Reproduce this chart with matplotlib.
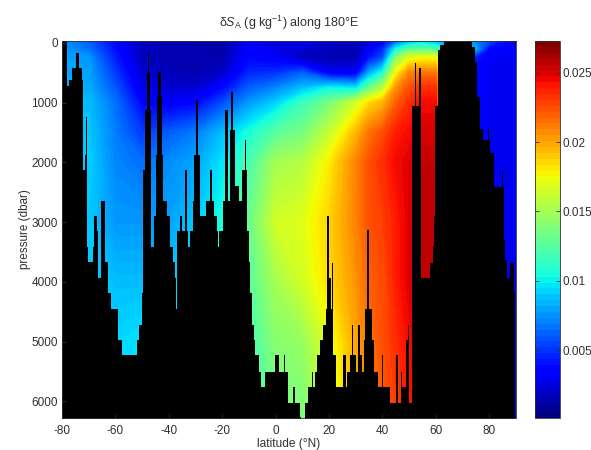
import numpy as np
import matplotlib
matplotlib.use("Agg")
from matplotlib import pyplot as plt
from matplotlib.colors import Normalize
from matplotlib.cm import ScalarMappable

plt.rcParams['font.family'] = ['Liberation Sans', 'DejaVu Sans']
plt.rcParams['mathtext.fontset'] = 'custom'
plt.rcParams['mathtext.rm'] = 'Liberation Sans'
plt.rcParams['mathtext.it'] = 'Liberation Sans:italic'
plt.rcParams['axes.unicode_minus'] = False

# Field, one row per latitude, one column per pressure
latitudes = [-80, -70, -60, -50, -40, -30, -20, -10, 0, 10, 20, 30, 35, 40, 45, 50, 55, 60, 65, 70, 75, 80, 85, 90]
pressures = [-30, 100, 250, 500, 750, 1000, 1500, 2000, 3000, 4000, 5000, 6400]
delta_sa = [
    [.0075, .0075, .0078, .0080, .0082, .0085, .0088, .0090, .0090, .0090, .0090, .0090],
    [.0060, .0065, .0075, .0078, .0080, .0085, .0088, .0090, .0088, .0090, .0092, .0092],
    [.0035, .0038, .0042, .0050, .0058, .0065, .0068, .0070, .0075, .0085, .0092, .0095],
    [.0015, .0015, .0016, .0020, .0026, .0035, .0050, .0065, .0075, .0085, .0095, .0098],
    [.0012, .0012, .0012, .0015, .0020, .0030, .0060, .0072, .0078, .0088, .0095, .0098],
    [.0012, .0012, .0012, .0012, .0020, .0035, .0068, .0078, .0088, .0095, .0100, .0100],
    [.0010, .0010, .0012, .0018, .0035, .0055, .0085, .0095, .0105, .0110, .0110, .0110],
    [.0030, .0032, .0035, .0045, .0060, .0075, .0105, .0120, .0130, .0125, .0118, .0115],
    [.0020, .0025, .0030, .0048, .0070, .0090, .0125, .0150, .0165, .0150, .0140, .0130],
    [.0030, .0020, .0015, .0060, .0085, .0115, .0135, .0155, .0170, .0165, .0145, .0135],
    [.0020, .0015, .0012, .0030, .0100, .0135, .0160, .0180, .0187, .0185, .0170, .0160],
    [.0015, .0012, .0012, .0030, .0095, .0165, .0195, .0210, .0210, .0205, .0200, .0195],
    [.0020, .0030, .0040, .0080, .0130, .0185, .0215, .0225, .0225, .0220, .0215, .0210],
    [.0030, .0045, .0055, .0105, .0155, .0195, .0225, .0235, .0230, .0225, .0225, .0220],
    [.0060, .0100, .0140, .0175, .0205, .0220, .0240, .0245, .0240, .0240, .0235, .0230],
    [.0080, .0125, .0170, .0210, .0225, .0235, .0245, .0250, .0250, .0250, .0245, .0240],
    [.0090, .0125, .0175, .0215, .0235, .0245, .0252, .0256, .0258, .0258, .0255, .0250],
    [.0080, .0120, .0175, .0215, .0235, .0245, .0252, .0256, .0258, .0258, .0255, .0250],
    [.0075, .0090, .0090, .0060, .0050, .0045, .0040, .0038, .0038, .0038, .0038, .0038],
    [.0075, .0085, .0060, .0040, .0038, .0036, .0035, .0035, .0035, .0035, .0035, .0035],
    [.0070, .0080, .0040, .0035, .0035, .0033, .0033, .0033, .0033, .0033, .0033, .0033],
    [.0055, .0035, .0030, .0028, .0028, .0028, .0028, .0028, .0028, .0028, .0028, .0028],
    [.0040, .0035, .0028, .0028, .0028, .0028, .0028, .0028, .0028, .0028, .0028, .0028],
    [.0020, .0030, .0028, .0028, .0028, .0028, .0028, .0028, .0028, .0028, .0028, .0028],
]

# Sea floor as steps: each depth holds from its latitude to the next one
bottom_lat = [-80, -78, -77.4, -76.4, -74.75, -73.5, -72.6, -72, -71.5, -71, -70.5, -70.1, -68.5, -67.9, -66.75,
              -66.4, -65.5, -63.9, -62.6, -61.6, -61.4, -61.1, -59.1, -58.9, -58.25, -57.6, -52, -51, -50.1, -49.5,
              -49.1, -48.25, -47.9, -47.6, -47, -46.6, -45.5, -44.75, -44.25, -43.9, -43, -42.6, -42, -40.75, -39.5,
              -38.6, -37.6, -37.25, -36.9, -36, -35.1, -33.9, -33.25, -33, -32, -31, -30.5, -29.9, -29.1, -28.25,
              -26.1, -24.75, -23.9, -23.25, -22, -21.4, -21.1, -19.75, -18.9, -17.9, -17, -16.75, -16.5, -16.25, -16,
              -15.4, -13.6, -12.6, -11.6, -11.25, -10.75, -10.1, -9.9, -9.5, -8.9, -8, -7.6, -6.4, -5.5, -3.9,
              -0.1, 1.1, 3, 3.6, 4.8, 6.4, 7.3, 9.15, 9.4, 11, 12.3, 13.5, 14.15, 14.8, 15.65,
              16.65, 17.9, 18.9, 19.4, 20, 20.65, 21, 21.65, 22.65, 25.4, 26.4, 26.65, 27.9, 28.5, 29.15,
              30.15, 30.65, 31.4, 31.65, 32.3, 32.9, 33.5, 34.15, 34.8, 36, 37, 38.5, 39.8, 40.15, 42.65,
              45.15, 46, 46.9, 47.3, 48.9, 49.4, 49.8, 51, 52, 52.5, 53.75, 54.4, 57.9, 58.9, 59.4,
              59.8, 60.65, 61.4, 62.9, 73.5, 74.5, 75.4, 76.65, 77.5, 79.5, 80, 80.4, 81.65, 84.65, 85,
              85.4, 86, 86.65, 87.9, 89.15, 89.8, 90]
bottom_depth = [-30, 731, 619, 424, 173, 424, 619, 2126, 1875, 1240, 3411, 3673, 3411, 2907, 3158,
                3930, 2655, 3673, 4192, 4460, 4973, 4460, 4722, 4973, 4973, 5225, 4973, 4722, 4192, 2126,
                1121, 507, 173, 507, 1121, 3411, 2907, 1875, 900, 490, 900, 1875, 2655, 2907, 3411,
                3673, 3930, 4460, 3158, 2907, 3158, 2126, 3158, 3411, 3158, 2655, 1875, 950, 1875, 2907,
                2655, 2126, 2655, 2907, 3158, 3411, 3158, 2655, 1121, 2655, 1456, 830, -30, 830, 1456,
                2405, 2655, 2126, 1623, 2126, 3158, 3411, 3673, 4192, 4722, 4973, 5225, 5504, 5755, 5504,
                5225, 5504, 5225, 5504, 6034, 5755, 6034, 6257, 6400, 6034, 5755, 5504, 5755, 5504, 5225,
                4973, 4722, 4460, 2907, 3941, 4460, 3690, 5225, 5755, 5225, 5755, 5504, 5225, 4722, 5225,
                5504, 4722, 3941, 5225, 5504, 4973, 4460, 3130, 4460, 4973, 5504, 5755, 5225, 5755, 6034,
                5225, 6034, 5504, 5755, 4973, 4722, 6034, 1055, 335, 1055, 420, 3941, 3690, 3400, 2900,
                1055, 117, 33, -30, 67, 320, 900, 1450, 1620, 1450, 1620, 1850, 2410, 2126, 2410,
                3300, 3635, 3941, 3690, 4192, 6400, 6400]

x_ticks = [-80, -60, -40, -20, 0, 20, 40, 60, 80]
y_ticks = [0, 1000, 2000, 3000, 4000, 5000, 6000]
cbar_ticks = [0.005, 0.01, 0.015, 0.02, 0.025]
cbar_labels = ['0.005', '0.01', '0.015', '0.02', '0.025']
v_min, v_max = 0.0001, 0.0273

W, H = 591, 450
fig = plt.figure(figsize=(W / 100, H / 100), dpi=100)
ax = fig.add_axes([62 / W, 1 - 418 / H, (516 - 62) / W, (418 - 41) / H])
cax = fig.add_axes([534.5 / W, 1 - 418 / H, 25.5 / W, (418 - 41) / H])

text_col = '#303030'
norm = Normalize(v_min, v_max)
field = np.array(delta_sa).T
ax.contourf(latitudes, pressures, field, levels=np.linspace(v_min, v_max, 129),
            cmap='jet', norm=norm, extend='both', antialiased=False)
ax.fill_between(bottom_lat, bottom_depth, 6400, step='post', color='k', linewidth=0)

ax.set_xlim(-80, 90)
ax.set_ylim(6280, -30)
ax.set_xticks(x_ticks)
ax.set_yticks(y_ticks)
ax.tick_params(direction='in', length=3, width=0.6, labelsize=8.5, colors=text_col, pad=3)
ax.tick_params(axis='x', pad=5)
ax.set_xlabel('latitude (°N)', fontsize=8.6, color=text_col, labelpad=1)
ax.set_ylabel('pressure (dbar)', fontsize=8.4, color=text_col, labelpad=0)
ax.set_title(r'δ$S_{\mathrm{A}}$ (g kg$^{-1}$) along 180°E', fontsize=9, color=text_col, pad=10)

cbar = fig.colorbar(ScalarMappable(norm=norm, cmap=plt.get_cmap('jet', 64)), cax=cax)
cbar.set_ticks(cbar_ticks)
cbar.set_ticklabels(cbar_labels)
cax.tick_params(direction='in', length=3, width=0.6, labelsize=8.5, colors=text_col, pad=2, left=True, right=True)

for a in (ax, cax):
    for s in a.spines.values():
        s.set_linewidth(0.6)
        s.set_color(text_col)

fig.savefig('out.png', dpi=100)
